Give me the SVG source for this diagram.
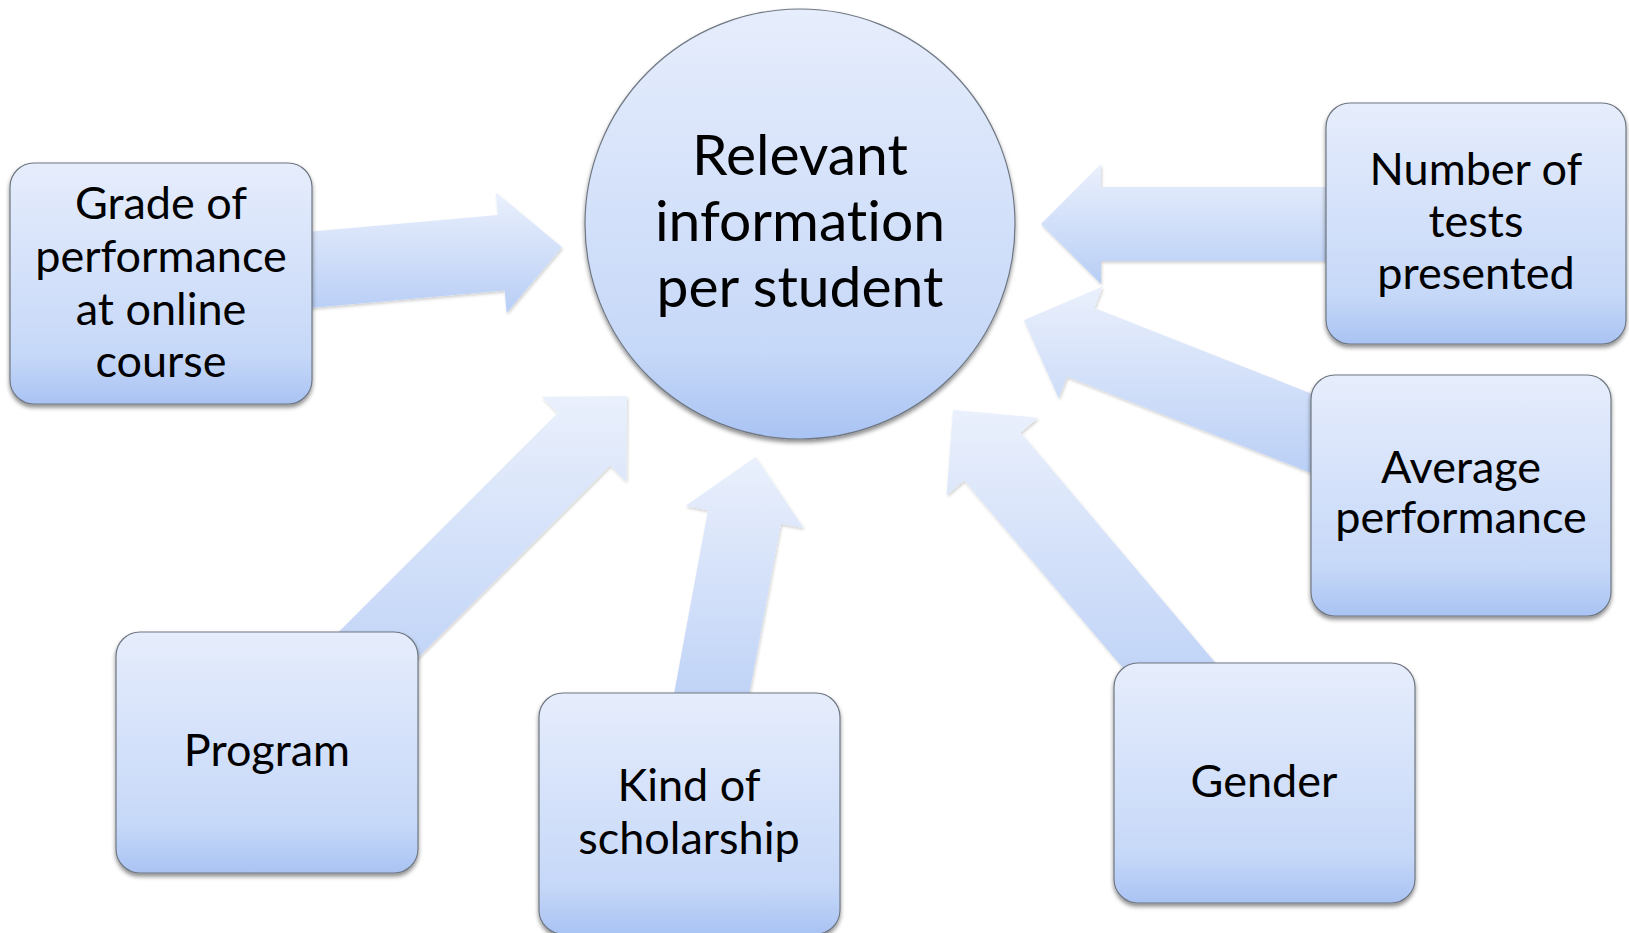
<svg xmlns="http://www.w3.org/2000/svg" width="1629" height="933" viewBox="0 0 1629 933">
<defs>
<linearGradient id="gBox" x1="0" y1="0" x2="0" y2="1">
<stop offset="0" stop-color="#e6edfc"/>
<stop offset="0.8" stop-color="#c6d8f8"/>
<stop offset="1" stop-color="#a9c3f3"/>
</linearGradient>
<linearGradient id="gArrow" x1="0" y1="0" x2="0" y2="1">
<stop offset="0" stop-color="#eaf0fc"/>
<stop offset="1" stop-color="#b8cef6"/>
</linearGradient>
<filter id="sh" x="-10%" y="-10%" width="120%" height="125%">
<feDropShadow dx="0" dy="3" stdDeviation="2" flood-color="#000" flood-opacity="0.45"/>
</filter>
<filter id="shA" x="-10%" y="-10%" width="120%" height="125%">
<feDropShadow dx="1" dy="2" stdDeviation="1.5" flood-color="#000" flood-opacity="0.18"/>
</filter>
</defs>
<style>
.box{fill:url(#gBox);stroke:#6f7782;stroke-width:1.2;filter:url(#sh)}
.arr{fill:url(#gArrow);stroke:none;filter:url(#shA)}
.t{font-family:Lato,"Liberation Sans",sans-serif;font-size:45px;fill:#000;text-anchor:middle;font-variant-ligatures:none}
.tc{font-family:Lato,"Liberation Sans",sans-serif;font-size:57px;fill:#000;text-anchor:middle;font-variant-ligatures:none}
</style>
<rect width="1629" height="933" fill="#fff"/>
<g id="connectors">
<path class="arr" d="M286.6,233.8 L497.8,214.9 L495.8,192.4 L562,247.3 L506.6,313 L504.6,290.5 L293.4,309.4 Z"/>
<path class="arr" d="M1360,187 L1101,187 L1101,164 L1041,224 L1101,284 L1101,261 L1360,261 Z"/>
<path class="arr" d="M1364,414.4 L1094.3,308 L1102.7,286.6 L1024,320 L1058.7,398.2 L1067.1,376.8 L1336.8,483.2 Z"/>
<path class="arr" d="M1233.8,684.4 L1020.6,432.6 L1038.2,417.7 L953,410 L946.6,495.3 L964.2,480.4 L1177.4,732.2 Z"/>
<path class="arr" d="M740.8,740 L780.8,523.7 L803.4,527.9 L755.5,457 L685.4,506.1 L708,510.3 L668,726.6 Z"/>
<path class="arr" d="M296.1,674.5 L557.7,412.9 L541.5,396.7 L627,396 L626.3,481.5 L610.1,465.3 L348.5,726.9 Z"/>
</g>
<g id="center">
<circle class="box" cx="800" cy="224" r="215"/>
<text class="tc" x="800" y="175">Relevant</text>
<text class="tc" x="800" y="241">information</text>
<text class="tc" x="800" y="307">per student</text>
</g>
<g id="grade">
<rect class="box" x="10" y="163" width="302" height="241" rx="24"/>
<text class="t" x="161" y="219">Grade of</text>
<text class="t" x="161" y="272">performance</text>
<text class="t" x="161" y="325">at online</text>
<text class="t" x="161" y="377">course</text>
</g>
<g id="tests">
<rect class="box" x="1326" y="103" width="300" height="241" rx="24"/>
<text class="t" x="1476" y="185">Number of</text>
<text class="t" x="1476" y="237">tests</text>
<text class="t" x="1476" y="289">presented</text>
</g>
<g id="average">
<rect class="box" x="1311" y="375" width="300" height="241" rx="24"/>
<text class="t" x="1461" y="483">Average</text>
<text class="t" x="1461" y="533">performance</text>
</g>
<g id="program">
<rect class="box" x="116" y="632" width="302" height="241" rx="24"/>
<text class="t" x="267" y="766">Program</text>
</g>
<g id="scholarship">
<rect class="box" x="539" y="693" width="301" height="241" rx="24"/>
<text class="t" x="689" y="801">Kind of</text>
<text class="t" x="689" y="854">scholarship</text>
</g>
<g id="gender">
<rect class="box" x="1114" y="663" width="301" height="240" rx="24"/>
<text class="t" x="1264" y="797">Gender</text>
</g>
</svg>
